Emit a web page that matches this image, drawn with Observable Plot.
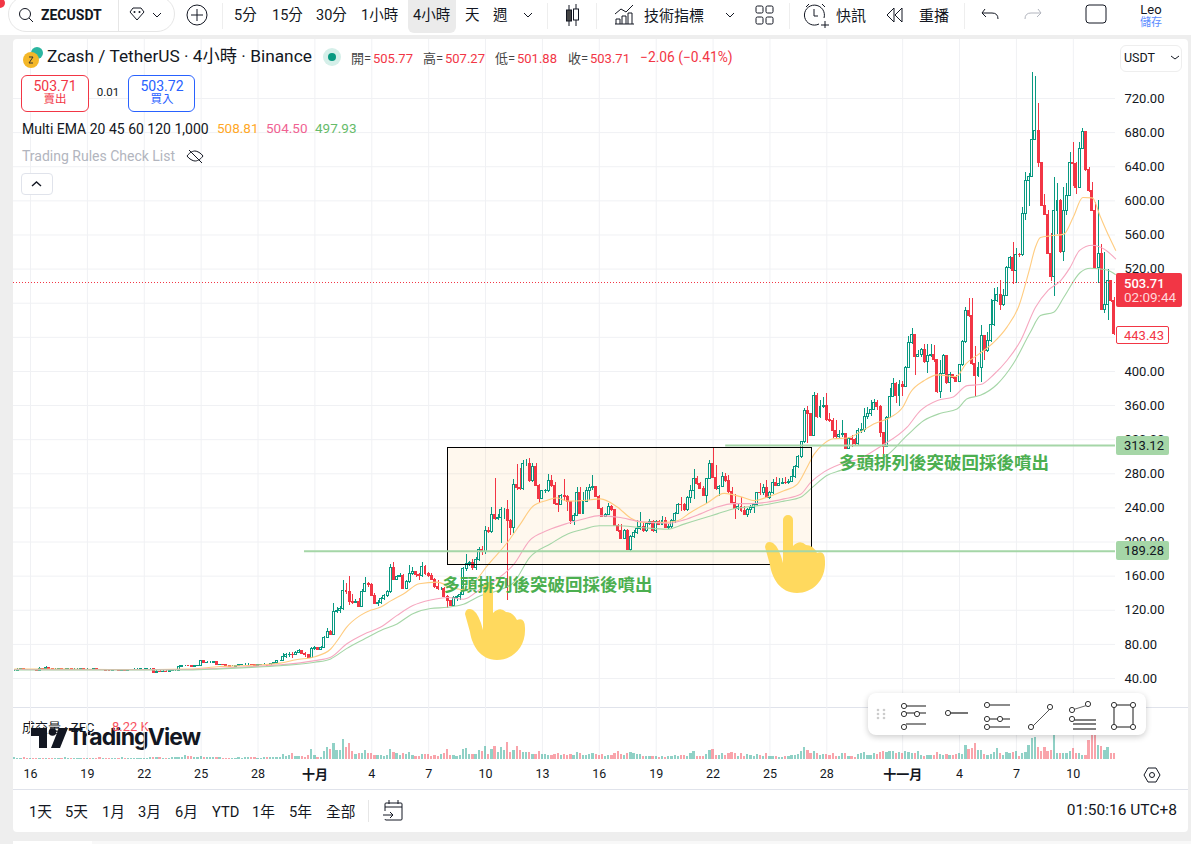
<!DOCTYPE html>
<html lang="zh-Hant">
<head>
<meta charset="utf-8">
<title>ZECUSDT</title>
<script src="https://cdn.jsdelivr.net/npm/d3@7"></script>
<script src="https://cdn.jsdelivr.net/npm/@observablehq/plot@0.6"></script>
<style>
html,body{margin:0;padding:0;background:#eeeeee;width:1191px;height:844px;overflow:hidden;font-family:Roboto,"Noto Sans CJK TC",sans-serif;color:#131722}
#stage{position:relative;width:1191px;height:844px;overflow:hidden}
.box{position:absolute;box-sizing:border-box}
.t{position:absolute;white-space:nowrap;line-height:1}
#stage svg{position:absolute;overflow:visible}
</style>
</head>
<body>
<div id="stage"></div>
<script>
// ---------- data ----------
const closes = [
49.3,50.5,50.9,50.5,50.1,50.1,49.7,49.3,51.7,
51.3,52.1,51.3,50.9,50.9,51.3,50.9,50.9,51.3,50.5,50.5,50.5,51.3,50.5,50.5,50.1,50.9,50.5,50.1,50.1,
49.3,48.9,49.3,49.3,48.9,49.7,49.3,50.1,50.1,50.5,50.5,50.9,50.9,51.3,51.3,
47,48.2,47.8,48.2,47.8,48.5,48.9,48.9,54,54.8,54.8,54.4,54,54.4,54.8,60.3,57.9,58.7,58.7,59.1,55.6,56.4,55.6,55.2,54,54,54.8,55.6,56.4,56.4,56.4,56,54.4,56,56.4,56.4,54.8,57.1,57.9,60.3,60.3,
65,67,68,67.5,69.5,72,69,67,64,74.6,75.4,74,75.8,88,95,91.4,118,119.6,121.5,143,
141,130,128,130,124,142,151,150,137,127.4,129,133,137,141,170,156,159,160,145,153,
162.6,165,161.4,160,171,162,160.6,155.6,147,145,145,136,130.5,125.5,134.5,135,138,168.5,174,176,
169,179,191,188,212.6,212,232,227,228,237,237,225,217,267,263.5,262,291,291,271,288.5,
266,250,259.6,260,272,266,245,243,
254,253,247,224.4,231,257.6,233,246.7,260.3,263.5,264,252.5,238.8,229.8,232,241.6,237,219.3,213.4,203.7,
213.4,190.8,205.6,210.3,215,218,213.4,221.3,223,212.7,223,220,225,217,218,224.4,233,244,243.5,237,
251.7,259.5,274,268,262,254.5,274,291.6,275,262,265,276,271,258.4,245.5,239,241.6,236,232,237.6,
240,243.5,257.6,257,263.5,252,257,269,266.2,268,269.5,269,270.5,276,288.5,299.4,317,354,350,324.8,
371.7,346.3,358.8,360,343,341.6,330.7,323,325.6,326.8,309,321,
319.8,315,330.7,331.5,347,350,355,362.7,358.8,327.6,311,345.5,369.8,385,371.7,384.6,381.5,404,433,443,
417.5,419.4,425,410.8,418.6,419,413,375.6,397,418.6,386,396,392.4,388,407,434,470.6,465.5,409,395,
404,442,423.7,436,454,483,490,478,489,521.4,533,517.5,536.7,536,584.7,623,627.7,671.5,682.4,644.5,
593.7,584,537.8,510.5,588.6,600,540,588.6,606,644.5,643,615,661,680.5,636.3,612,588.6,521.4,538,472,
478,506.6,482.3,443.43];
const highs = [
51,51.5,51.5,51.5,51,51,50.6,50.4,52.5,
52.3,54,52.6,52,51.8,52,51.8,51.6,52,51.8,51.2,51.2,52,51.8,51.2,50.9,51.6,51.5,51,50.8,
50.8,49.8,50,50.1,49.9,50.4,50.3,50.8,50.8,51.2,51.2,51.6,51.6,52,52,
52,49,48.8,49,48.9,49.3,49.6,49.6,55,55.6,55.6,55.5,55,55.2,55.6,61,61.5,59.6,59.4,59.8,59.7,57,56.8,56.2,55.8,55,55.6,56.4,57,57.2,57.1,56.8,56.8,56.8,57,57.2,56.9,58,58.8,61,61.2,
69,69,70,71,72,73.5,72.5,70.5,68,76.6,77,76.5,77.5,89,99,96,128,123.5,124,155,
151.6,159.5,139,133,133.7,144,158,153,151.7,140,131,135,139,143,174,176,161,163,162,155,
172,170,166,163,176,172,164,162.6,157,155,147,147,137,132,136,137,141,170,185,177.5,
179,182,194,195,218,216.6,241,274,232,241,239,249,226,273,291,286,295.5,297,297.5,292,
292,268,261,262,279,278,270,254,
256,273,254,238,234,264,263.5,258,263.5,267.4,278,265,254.5,240.8,233.8,245.5,242.4,237.7,220.5,221,
215,214.2,207.6,213.4,225.2,235,222,222,226,225.2,225.2,225.2,230,229,221,225.9,234.9,245.5,252.5,244.7,
253.3,266.2,284.6,277,270,265,274.8,296,310,289.6,266.2,281.8,280.6,278,263.5,256,244.7,252.5,241.6,238.8,
242.4,244.7,258.4,269,268,272,259.5,273,276,274,275,276,272.8,284.6,289.6,301,318,357,359,350.2,
374.8,373.7,365.9,369.8,373.7,350.2,344.4,342.4,330.7,343,326.8,323,
325,321,332.6,339,356,358,366,366.6,366,360,329,347,380,392,387,389,388.5,405.7,441,450,
443,424.5,426.4,432,432,432,430,413.5,413,419.8,418.6,399,397,395,408,436,475,485,485,429,
410.8,454,442,446,484,497,498,507,496,523,534.7,551.5,544,538,592.5,633.6,632,750.4,745.7,714.5,
645,608,588.6,561.3,627,620,602,616,620,656.6,668.7,645,668,684.4,681,639.4,622,598,600,548.4,
540,520,506.6,487];
const lows = [
48.6,49.2,50.2,50,49.6,49.4,49,48.7,49.2,
50.8,51,50.7,50.3,50.4,50.6,50.4,50.3,50.5,50,49.9,49.9,50.2,50,49.9,49.6,49.8,50,49.6,49.6,
48.8,48.4,48.6,48.8,48.4,48.6,48.8,49.1,49.5,49.7,50,50.1,50.4,50.5,50.7,
46.5,46.6,47.2,47.2,47.2,47.4,48,48.2,48,53.8,54.2,53.9,53.4,53.6,54,54,57.2,57.6,58,58,55,55,55,54.6,53.5,53.5,53.8,54.6,55.4,55.8,55.8,55.4,53.8,54,55.6,55.8,54.2,54.3,56.6,57.2,59.6,
60,64,65,64,67,69,68,65,63,63,73,72.5,73,76.6,86.4,90,92,115.7,116.5,119.6,
139,126,127,127.5,123.5,123.5,140.7,147,136,126.2,125,126.6,131,135,140,155,156,158,144,144,
151,161,159,155,159,161,159,155,145,143,143.5,135,121.5,124,125,130.5,132,137,166,171,
167,167,177,184,185,209.5,210,225,225,198,227,131,207.6,209.5,260,260,260,288,270,270,
265,245,250,257,258,264,243,235,
243,248,236,221,219.3,230,232,233.8,246,248.6,260,251.7,237.7,228.3,228.3,231,236,218,211.5,203,
203.3,190,188,204,208.7,213.4,211.5,211,219,211.5,210.3,219,219,216.6,215,215.4,222,232.2,236,236,
236,245.5,249.4,266.2,261.1,253.3,244.7,273,274,260.3,253.7,263.5,270,257.2,244.7,227,236.9,234.9,231.4,229,
233,233,241.6,254.5,254.5,250.6,250.2,255.6,265,266.2,267,268,267.4,269.7,274.4,285.7,297.5,315,315,323.6,
323.6,344.4,344.4,357,341.6,340,321,321,321,322,308,309,
311,312.7,312,327,329,344,347,354,354,323,298.6,311,344.4,369,362,359,370.5,381,403,432,
395,416.7,416.7,409,398,416.7,411,374.5,368,396,384.6,375.6,391,387.4,387.4,405.7,433,463.6,407,370.5,
393,387,413,422.5,434,453,481,471,476.5,487.8,520,502,502.7,534,535,577,593,627,670.7,639.5,
593,583,537,506,488,560,538.6,529,583,605,616.8,608,616,659.8,634.8,610,588,520,503.5,471,
467.5,460,481,442];
// Volume, as bar heights read in thirds of a pixel (an arbitrary unit: only the shape is readable)
const volumes = [
5,4,3,5,4,4,3,3,4,4,3,3,4,3,3,4,5,4,3,3,3,4,3,3,3,3,4,5,3,3,3,4,3,3,5,4,3,3,4,4,3,3,3,5,5,6,5,4,3,4,
6,7,6,5,12,9,8,7,7,8,6,6,5,6,7,5,4,4,4,3,4,5,4,6,7,6,5,4,4,6,6,
6,6,6,6,15,9,12,18,9,9,9,6,12,30,12,6,6,24,36,30,48,27,27,60,36,48,24,15,18,18,
27,18,18,12,12,12,9,12,30,21,18,12,18,15,21,12,9,9,15,15,15,9,12,9,15,18,30,12,12,9,
12,30,33,15,15,15,27,24,39,15,30,39,21,36,27,51,21,27,39,27,21,21,21,15,15,24,15,15,12,12,15,18,
12,15,12,15,12,21,18,12,12,15,18,15,12,15,9,12,12,18,24,15,12,18,21,18,15,15,9,9,9,9,
9,6,9,6,9,9,12,9,12,12,9,18,24,9,9,9,15,27,30,12,12,18,12,18,21,18,9,18,9,15,
12,9,15,12,9,18,9,9,9,6,6,9,9,12,12,15,24,36,27,18,24,18,12,15,15,12,18,9,9,18,18,9,
9,6,15,18,21,12,12,18,15,21,24,21,24,24,18,21,18,24,21,18,18,24,12,9,12,12,12,21,15,12,
15,12,12,15,18,15,42,30,33,48,27,27,15,12,15,21,33,18,12,21,18,21,24,9,18,21,42,63,66,36,
24,36,24,27,90,18,18,18,18,24,33,18,18,12,12,57,90,90,42,39,27,36,18,18];
// EMA samples: bar position counted from 16 Sep in 4-hour steps, and the price read there
const emaFastBars = [-5,10,25,40,50,60,70,79,84,90,95,97,100,104.4,107.6,110.7,114,118,123,128.7,133,138,141,144.5,151,155,159,163.5,166.6,170,175,180.4,185.7,190,194,200.5,204.7,209,214,219.5,225.8,229,233,238.4,242.7,245.8,248,251,254,258.5,262.6,266.8,272,276,278.5,282.7,287,293,296,300,304.8,309,312.8,316,318,319.6,322.8,327,330,333,336,338.6,341.2,343.4];
const emaFastValues = [51,51,50.5,50.5,51,54,55.5,58,62,65.6,74.6,84,100,114,120,123.5,131,139,151,153,147,144,155,172,200,221,242,249,252,248,248.6,250.6,241,228,223,223,225,235,245.5,257,252,248.6,252.5,260,268,288,303,315,321,322,329,338.5,346,358,375.6,389,396,394,409,420,434,452,477,518,545.6,557,559,561,581,604,603.5,581,559,542];
const emaMidBars = [-5,25,50,60,70,79,90,95,100,105.5,110.7,116,121,126.6,132,137,142.4,147.7,153,158,163.5,170,175,180,186,193,201.5,206.8,212,217.3,222.6,228,233,238.4,243.7,246.9,251,256.4,262.6,269,277.4,281.6,287,292,296.4,300.6,305,309,313.3,318,322,326,329,332,336,339.7,343.4];
const emaMidValues = [50.5,50.2,50.5,52,54,56,61,65,80.5,92,100,114,125.5,132,135,133,145,156.7,174,202,213.4,222,227,231,229,224,222,226,233,241,245,245,246.6,250.6,256,270,282,291.6,298,312,334.6,354,366,370,383.4,384.6,397,412.8,436,475,495,506.5,522,542,548,543.6,532];
const emaSlowBars = [-5,25,50,60,70,79,90,95,100,105.5,110.7,116,121,126.6,132,137,142.4,147.7,153,158,164.6,170,175,180,186,193,201.5,206.8,212,217.3,222.6,228,233,238.4,243.7,247.4,252,256.4,263,270,277.4,282.7,288,293.2,296.4,300.6,305.9,311,316.4,319.6,323.8,327,332.2,335.4,340.7,343.3];
const emaSlowValues = [50,50,50,51.3,53,55,59,63,75,86,96,104,116,122,123.5,127,137,143,153,182,198,209.5,215,219,219,217,215,221,227,233,239,241.6,244,248,252.5,264,278,284,292,299,325,342.4,351,356,368,372,385,409,446,465.5,469.4,487,516,521,519,513.6];
const priceTicks = [40,80,120,160,200,240,280,320,360,400,440,480,520,560,600,640,680,720];
const dayTicks = [[8,16],[8,19],[8,22],[8,25],[8,28],[9,4],[9,7],[9,10],[9,13],[9,16],[9,19],[9,22],[9,25],[9,28],[10,4],[10,7],[10,10]];
const monthTicks = [[9,1,"十月"],[10,1,"十一月"]];
const supportLevel = 189.28, resistanceLevel = 313.12, lastPrice = 503.71, lastBarClose = 443.43;
const annotationText = "多頭排列後突破回採後噴出";

// ---------- helpers ----------
const H4 = 4*3600*1000, t0 = Date.UTC(2025,8,16);
const dateAt = k => new Date(t0 + k*H4);
const bars = closes.map((c,i)=>{
  const o = i ? closes[i-1] : c;
  return {k:i-5, date:dateAt(i-5), x1:dateAt(i-5-0.31), x2:dateAt(i-5+0.31), vx1:dateAt(i-5-0.36), vx2:dateAt(i-5+0.36),
          open:o, close:c, high:highs[i], low:lows[i], volume:volumes[i], up:c>=o};
});
const ema = (ks,vs)=>ks.map((k,i)=>({date:dateAt(k),value:vs[i]}));
const tick = ([m,d])=>new Date(Date.UTC(2025,m,d));
const xScale = {type:"utc",domain:[dateAt(-5.38),dateAt(343.35)],range:[13,1115]};
const FONT = 'Roboto,"Noto Sans CJK TC",sans-serif';
const GREEN="#089981", RED="#f23645", GRID="#f0f1f4";
const gridDates = [...dayTicks.map(tick),...monthTicks.map(tick)];

const hands = ()=>{
  const g = d3.create("svg:g");
  const hand = "M483 587 a5 5 0 0 1 10 0 L493 613 Q500 606 506 612 Q513 612 517 620 Q525 617 525 628 C526 648 512 660 497 660 C480 660 472 645 470 632 L465 614 Q466 607 473 610 Q479 614 483 630 Z";
  g.append("path").attr("d",hand).attr("fill","#ffd95e");
  g.append("path").attr("d",hand).attr("fill","#ffd95e").attr("transform","translate(300,-67)");
  return g.node();
};

// ---------- price pane ----------
const stage = document.getElementById("stage");
const bg=(x,y,w,h,css)=>{const d=document.createElement("div");d.className="box";d.style.cssText=`left:${x}px;top:${y}px;width:${w}px;height:${h}px;${css||""}`;stage.appendChild(d);return d;};
bg(13,39,1175,793,"background:#fff;border-radius:4px");
bg(13,841,1178,4,"background:#f8f8f8");
bg(13,841,79,4,"background:#fff");
bg(0,0,1191,35,"background:#fff");

const crisp = {shapeRendering:"crispEdges"};
const price = Plot.plot({
  width:1191,height:707,marginLeft:13,marginRight:76,marginTop:39,marginBottom:0,
  style:{fontFamily:FONT,fontSize:"13px",color:"#131722",background:"transparent"},
  x:{...xScale,axis:null},
  y:{domain:[40,720],range:[678,98],axis:null},
  marks:[
    Plot.ruleX(gridDates,{stroke:GRID}),
    Plot.ruleY(priceTicks,{stroke:GRID}),
    Plot.rect([{x1:dateAt(132),x2:dateAt(247.2),y1:173.6,y2:310.8}],{x1:"x1",x2:"x2",y1:"y1",y2:"y2",fill:"#ff9800",fillOpacity:0.065,...crisp}),
    Plot.ruleX(bars,{x:"date",y1:"low",y2:"high",stroke:d=>d.up?"up":"down",...crisp}),
    Plot.rect(bars.filter(d=>d.up),{x1:"x1",x2:"x2",y1:"open",y2:"close",fill:"#fff",stroke:GREEN,strokeWidth:1,...crisp}),
    Plot.rect(bars.filter(d=>!d.up),{x1:"x1",x2:"x2",y1:"open",y2:"close",fill:RED,stroke:RED,strokeWidth:1,...crisp}),
    Plot.line(ema(emaFastBars,emaFastValues),{x:"date",y:"value",stroke:"#ffcc80",strokeWidth:1.1,curve:"monotone-x"}),
    Plot.line(ema(emaMidBars,emaMidValues),{x:"date",y:"value",stroke:"#f6a8c0",strokeWidth:1.1,curve:"monotone-x"}),
    Plot.line(ema(emaSlowBars,emaSlowValues),{x:"date",y:"value",stroke:"#a5d6a7",strokeWidth:1.1,curve:"monotone-x"}),
    Plot.rect([{x1:dateAt(132),x2:dateAt(247.2),y1:173.6,y2:310.8}],{x1:"x1",x2:"x2",y1:"y1",y2:"y2",fill:"none",stroke:"#000",strokeWidth:1,...crisp}),
    hands,
    Plot.ruleY([supportLevel],{x1:dateAt(86.7),x2:dateAt(343.35),stroke:"#a5d6a7",strokeWidth:2}),
    Plot.ruleY([resistanceLevel],{x1:dateAt(220),x2:dateAt(343.35),stroke:"#a5d6a7",strokeWidth:2}),
    Plot.ruleY([lastPrice],{stroke:RED,strokeWidth:1,strokeDasharray:"1,2",...crisp}),
    Plot.text([annotationText],{x:dateAt(163.6),y:149,text:d=>d,fill:"#4caf50",fontSize:17.5,fontWeight:"bold",fontFamily:'"Noto Sans CJK TC",sans-serif'}),
    Plot.text([annotationText],{x:dateAt(289.1),y:292,text:d=>d,fill:"#4caf50",fontSize:17.5,fontWeight:"bold",fontFamily:'"Noto Sans CJK TC",sans-serif'}),
    Plot.axisY(priceTicks,{anchor:"right",tickSize:0,tickPadding:9,tickFormat:d=>d.toFixed(2),label:null,fontSize:13})
  ],
  color:{domain:["up","down"],range:[GREEN,RED]}
});
price.style.left="0";price.style.top="0";
stage.appendChild(price);

// ---------- pane separators, logo and volume legend sit under the volume pane ----------
bg(13,707,1175,1,"background:#e0e3eb");
bg(13,789,1175,1,"background:#e0e3eb");
function t(text,x,y,css,anchor){
  const s=document.createElement("span");s.className="t";s.textContent=text;
  const tx=anchor==="c"?"-50%":anchor==="r"?"-100%":"0";
  s.style.cssText=`left:${x}px;top:${y}px;transform:translate(${tx},-50%);${css||""}`;
  stage.appendChild(s);return s;
}
const logo=document.createElementNS("http://www.w3.org/2000/svg","svg");
logo.setAttribute("width","1191");logo.setAttribute("height","844");logo.style.cssText="left:0;top:0;pointer-events:none";
logo.innerHTML=`<path d="M30 728h17v20h-8v-12h-9z" fill="#131722"/><circle cx="52.500" cy="732" r="3.800" fill="#131722"/><path d="M59 728h9l-8 20h-9z" fill="#131722"/>`;
stage.appendChild(logo);
t("TradingView",68,737,'font:700 23px Inter,sans-serif;letter-spacing:-.9px;color:#131722');
t("成交量 · ZEC",22,727,"font-size:13px;color:#131722");
t("8.22 K",112,726,"font-size:13px;color:#f7525f");

// ---------- volume pane with date axis ----------
const volume = Plot.plot({
  width:1191,height:83,marginLeft:13,marginRight:76,marginTop:0,marginBottom:31,
  style:{fontFamily:FONT,fontSize:"12.5px",color:"#131722",background:"transparent"},
  x:{...xScale},
  y:{domain:[0,156],range:[52,0],axis:null},
  marks:[
    Plot.ruleX(gridDates,{stroke:GRID}),
    Plot.rect(bars.filter(d=>d.up),{x1:"vx1",x2:"vx2",y1:0,y2:"volume",fill:GREEN,fillOpacity:.45,...crisp}),
    Plot.rect(bars.filter(d=>!d.up),{x1:"vx1",x2:"vx2",y1:0,y2:"volume",fill:RED,fillOpacity:.45,...crisp}),
    Plot.axisX(dayTicks.map(tick),{anchor:"bottom",tickSize:0,tickPadding:10,tickFormat:d=>String(d.getUTCDate()),label:null}),
    Plot.axisX(monthTicks.map(tick),{anchor:"bottom",tickSize:0,tickPadding:10,fontWeight:"bold",fontSize:13,
      tickFormat:d=>monthTicks.find(m=>m[0]===d.getUTCMonth())[2],label:null})
  ]
});
volume.style.left="0";volume.style.top="707px";
stage.appendChild(volume);

// ---------- price tags, placed through the price scale ----------
const yy = v=>price.scale("y").apply(v);
function tag(v,label,css,w,h){
  const d=bg(1116,Math.round(yy(v)-h/2),w,h,`border-radius:2px;display:flex;align-items:center;padding-left:8px;font-size:13px;line-height:1;${css}`);
  d.textContent=label;return d;
}
tag(resistanceLevel,resistanceLevel.toFixed(2),"background:#a5d6a7;color:#131722",53,19);
tag(supportLevel,supportLevel.toFixed(2),"background:#a5d6a7;color:#131722",53,19);
tag(lastBarClose-1.5,lastBarClose.toFixed(2),"background:#fff;border:1px solid #f23645;color:#f23645;padding-left:7px",53,18);
const last=bg(1116,273,66,34,"background:#f23645;border-radius:2px;color:#fff");
t(lastPrice.toFixed(2),1124,283,"font-size:13px;font-weight:500;color:#fff");
t("02:09:44",1124,298,"font-size:13.5px;color:#ffd7da");

// ---------- chrome ----------
const CN="font-size:14.5px;color:#131722;";
bg(408,0,48,33,"background:#ebebeb;border-radius:0 0 6px 6px");
bg(8,-4,167,36,"border:1px solid #e6e6e6;border-radius:18px");
bg(118,0,1,32,"background:#e6e6e6");
[222,547,596,789,964].forEach(x=>bg(x,3,1,26,"background:#eee"));
t("ZECUSDT",41,15,"font-size:14px;font-weight:700");
[["5分",234],["15分",272],["30分",316],["1小時",361],["4小時",413],["天",465],["週",493]]
  .forEach(([s,x])=>t(s,x,16,CN));
[["技術指標",644],["快訊",836],["重播",919]].forEach(([s,x])=>t(s,x,16,"font-size:15px;color:#131722"));
t("Leo",1151,9,"font-size:13px","c");
t("儲存",1151,22,"font-size:11px;color:#5b8cff","c");

t("Zcash / TetherUS · 4小時 · Binance",47,57,"font-size:17.3px");
const ohlc=[["開=",351],["高=",423],["低=",495],["收=",568]];
ohlc.forEach(([s,x])=>t(s,x,58,"font-size:13px;color:#444"));
[["505.77",373],["507.27",445],["501.88",517],["503.71",590]]
  .forEach(([s,x])=>t(s,x,58,"font-size:13px;color:#f23645"));
t("−2.06 (−0.41%)",640,58,"font-size:13.8px;color:#f23645");
bg(21,75,68,37,"border:1px solid #f23645;border-radius:6px;background:#fff");
t("503.71",55,86,"font-size:14px;color:#f23645","c");
t("賣出",55,100,"font-size:11.5px;color:#f23645","c");
t("0.01",108,93,"font-size:11.5px","c");
bg(128,75,67,37,"border:1px solid #2962ff;border-radius:6px;background:#fff");
t("503.72",162,86,"font-size:14px;color:#2962ff","c");
t("買入",162,100,"font-size:11.5px;color:#2962ff","c");
t("Multi EMA 20 45 60 120 1,000",22,129,"font-size:14px");
t("508.81",217,129,"font-size:13.5px;color:#ffa726");
t("504.50",266,129,"font-size:13.5px;color:#f06292");
t("497.93",315,129,"font-size:13.5px;color:#66bb6a");
t("Trading Rules Check List",22,156,"font-size:14px;color:#b2b5be");
bg(21,173,32,22,"border:1px solid #e0e3eb;border-radius:4px;background:#fff");
bg(1120,45,62,27,"border:1px solid #eee;border-radius:6px;background:#fff");
t("USDT",1124,58,"font-size:12.5px");
[["1天",29],["5天",65],["1月",102],["3月",138],["6月",175],["YTD",212],["1年",252],["5年",289],["全部",326]]
  .forEach(([s,x])=>t(s,x,812,"font-size:14.7px"));
bg(368,800,1,22,"background:#e6e6e6");
t("01:50:16 UTC+8",1177,811,"font-size:15.5px","r");
bg(868,693,278,42,"background:#fff;border-radius:8px;box-shadow:0 2px 6px rgba(0,0,0,.2)");

// Interface icons
const icons=document.createElementNS("http://www.w3.org/2000/svg","svg");
icons.setAttribute("width","1191");icons.setAttribute("height","844");icons.style.cssText="left:0;top:0;pointer-events:none";
const ln='fill="none" stroke="#131722" stroke-width="1"';
const anchor=(x,y)=>`<circle cx="${x}" cy="${y}" r="2.6" fill="#fff" stroke="#333"/>`;
icons.innerHTML=`
<circle cx="0" cy="3" r="5" fill="#f23645"/>
<circle cx="25" cy="14" r="5.5" ${ln} stroke-width="1.3"/><path d="M29 18l4 4" ${ln}/>
<path d="M130 12l3-4h8l3 4-7 8z" ${ln}/><circle cx="134.5" cy="12" r="1" fill="#131722"/><circle cx="139.5" cy="12" r="1" fill="#131722"/>
<path d="M153 13l4 4 4-4" ${ln}/>
<circle cx="197" cy="15" r="10" ${ln}/><path d="M197 9v12M191 15h12" ${ln}/>
<path d="M524 13l4 4 4-4" ${ln}/>
<path d="M569 5v5M569 21v5M576 4v5M576 20v6" ${ln} stroke-width="1.2"/><rect x="566.5" y="10" width="5" height="11" fill="#444" stroke="#131722"/><rect x="573.5" y="9" width="5" height="11" fill="#fff" stroke="#131722"/>
<path d="M615 14l6-5 5 3 7-7M616 24v-5h4v5M622 24v-8h4v8M628 24v-11h4v11M615 24h19" ${ln}/>
<path d="M726 13l4 4 4-4" ${ln}/>
<rect x="756" y="6" width="7" height="7" rx="1.5" ${ln}/><rect x="766" y="6" width="7" height="7" rx="1.5" ${ln}/><rect x="756" y="17" width="7" height="7" rx="1.5" ${ln}/><rect x="766" y="17" width="7" height="7" rx="1.5" ${ln}/>
<path d="M819 24a10 10 0 1 1 5-6M814 9v7h4M825 21v7M821 25h8M806 7l3-3M822 4l3 3" ${ln}/>
<path d="M902 8l-7 7 7 7zM894 8l-7 7 7 7z" ${ln}/>
<path d="M985 11h-0l-3 4 4 4M982 15h10q6 0 6 6" ${ln} transform="translate(0,-2)"/>
<path d="M1038 11l3 4-4 4M1041 15h-10q-6 0-6 6" fill="none" stroke="#b2b5be" transform="translate(0,-2)"/>
<rect x="1086" y="5" width="20" height="18" rx="3" ${ln} stroke-width="1.2"/>
<path d="M189 150l13 13M187 156c3-4 6-5 8-5s6 2 8 5c-3 4-6 5-8 5s-6-2-8-5z" ${ln} fill="none"/>
<path d="M32 186l4.5-4 4.5 4" stroke="#131722" stroke-width="1.4" fill="none"/>
<path d="M1171 56l4 3 4-3" ${ln}/>
<path d="M1144 775l4-7h8l4 7-4 7h-8z" ${ln}/><circle cx="1152" cy="775" r="2.500" ${ln}/>
<rect x="385" y="803" width="17" height="17" rx="1" fill="none" stroke="#131722"/><path d="M385 807h17M389 800v4M398 800v4" ${ln}/><rect x="382" y="811" width="6" height="8" fill="#fff"/><path d="M383 815h9M390 812l3 3-3 3" ${ln}/>
<circle cx="37" cy="53" r="6" fill="#2bb5a0"/><circle cx="31" cy="60" r="8" fill="#f4b728"/><path d="M29 57h4l-4 6h4" stroke="#333" fill="none"/>
<circle cx="332" cy="57" r="9" fill="#d5efe9"/><circle cx="332" cy="57" r="4" fill="#089981"/>
<g fill="#ccc"><circle cx="878" cy="710" r="1.3"/><circle cx="884" cy="710" r="1.3"/><circle cx="878" cy="714" r="1.3"/><circle cx="884" cy="714" r="1.300"/><circle cx="878" cy="718" r="1.300"/><circle cx="884" cy="718" r="1.300"/></g>
<path d="M906 706h20M906 713h20M906 724h20" stroke="#666" stroke-width="1.500"/>${anchor(904,706)}${anchor(904,714)}${anchor(917,714)}${anchor(904,727)}
<path d="M948 713h20" stroke="#666" stroke-width="1.800"/>${anchor(948,713)}
<path d="M990 705h20M990 719h20M990 727h20" stroke="#666" stroke-width="1.500"/>${anchor(987,705)}${anchor(987,719)}${anchor(1000,719)}${anchor(987,727)}
<path d="M1031 728l18-18" stroke="#555"/>${anchor(1031,727)}${anchor(1050,707)}
<path d="M1073 720h23M1073 724h23M1073 729h23" stroke="#555" stroke-width="1.500"/><path d="M1072 710l16-5" stroke="#666"/>${anchor(1072,710)}${anchor(1088,704)}${anchor(1072,719)}
<rect x="1114" y="705" width="19" height="22" fill="none" stroke="#666" stroke-width="1.500"/>${anchor(1114,705)}${anchor(1133,705)}${anchor(1114,727)}${anchor(1133,727)}
`;
stage.appendChild(icons);
if(new Set([closes.length,highs.length,lows.length,volumes.length]).size!==1) throw new Error(`lengths ${closes.length} ${highs.length} ${lows.length} ${volumes.length}`);
</script>
</body>
</html>
